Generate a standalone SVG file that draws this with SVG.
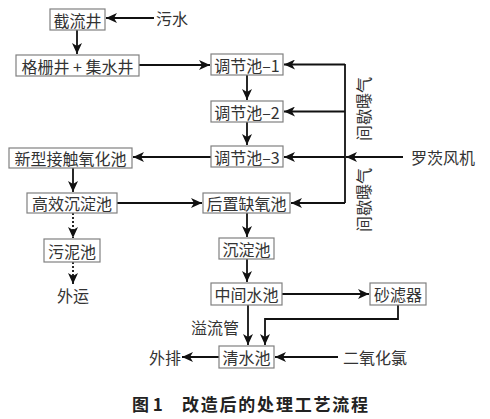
<svg xmlns="http://www.w3.org/2000/svg" width="490" height="419" viewBox="0 0 490 419">
<style>
.box{fill:#fff;stroke:#808080;stroke-width:1.2}
.t{font-family:"Noto Sans CJK SC","Noto Sans",sans-serif;font-size:16px;fill:#333;text-anchor:middle;dominant-baseline:central}
.l{fill:none;stroke:#111;stroke-width:1.8}
.d{fill:none;stroke:#111;stroke-width:1.8;stroke-dasharray:2,2}
.cap{font-family:"Noto Sans CJK SC","Noto Sans",sans-serif;font-size:17px;font-weight:bold;fill:#222;dominant-baseline:central}
</style>
<defs>
<marker id="a" markerUnits="userSpaceOnUse" markerWidth="12" markerHeight="10" refX="11" refY="5" orient="auto">
<path d="M0,0 L11,5 L0,10 L3,5 z" fill="#111"/>
</marker>
</defs>
<rect width="490" height="419" fill="#fff"/>
<g id="connectors">
<line class="l" x1="154" y1="18" x2="106" y2="18" marker-end="url(#a)"/>
<line class="l" x1="77" y1="30" x2="77" y2="54" marker-end="url(#a)"/>
<line class="l" x1="139" y1="65" x2="210" y2="65" marker-end="url(#a)"/>
<line class="l" x1="247" y1="75" x2="247" y2="100" marker-end="url(#a)"/>
<line class="l" x1="247" y1="122" x2="247" y2="145" marker-end="url(#a)"/>
<line class="l" x1="345" y1="64" x2="345" y2="203"/>
<line class="l" x1="345" y1="64.5" x2="284" y2="64.5" marker-end="url(#a)"/>
<line class="l" x1="345" y1="111.5" x2="284" y2="111.5" marker-end="url(#a)"/>
<line class="l" x1="345" y1="157" x2="284" y2="157" marker-end="url(#a)"/>
<line class="l" x1="345" y1="203" x2="291" y2="203" marker-end="url(#a)"/>
<line class="l" x1="403" y1="157" x2="346" y2="157" marker-end="url(#a)"/>
<line class="l" x1="211" y1="157" x2="133" y2="157" marker-end="url(#a)"/>
<line class="l" x1="73" y1="168" x2="73" y2="192" marker-end="url(#a)"/>
<line class="l" x1="117" y1="203" x2="202" y2="203" marker-end="url(#a)"/>
<line class="l" x1="247" y1="213" x2="247" y2="237" marker-end="url(#a)"/>
<line class="l" x1="247" y1="259" x2="247" y2="282" marker-end="url(#a)"/>
<line class="l" x1="282" y1="294" x2="369" y2="294" marker-end="url(#a)"/>
<path class="l" d="M398,305 V319 H265 V345" marker-end="url(#a)"/>
<line class="l" x1="248" y1="305" x2="248" y2="345" marker-end="url(#a)"/>
<line class="l" x1="219" y1="357" x2="182" y2="357" marker-end="url(#a)"/>
<line class="l" x1="338" y1="357" x2="275" y2="357" marker-end="url(#a)"/>
<line class="d" x1="73" y1="213" x2="73" y2="238" marker-end="url(#a)"/>
<line class="d" x1="73" y1="262" x2="73" y2="284" marker-end="url(#a)"/>
</g>
<g id="n-jieliujing"><rect class="box" x="50" y="9" width="55" height="21"/><text class="t" x="77.5" y="19.5">截流井</text></g>
<g id="n-wushui"><text class="t" x="172" y="18">污水</text></g>
<g id="n-geshan"><rect class="box" x="16" y="55" width="123" height="21"/><text class="t" x="77.5" y="65.5">格栅井 + 集水井</text></g>
<g id="n-tiaojie1"><rect class="box" x="211" y="54" width="72" height="21"/><text class="t" x="247" y="64.5">调节池–1</text></g>
<g id="n-tiaojie2"><rect class="box" x="211" y="101" width="72" height="21"/><text class="t" x="247" y="111.5">调节池–2</text></g>
<g id="n-tiaojie3"><rect class="box" x="211" y="146" width="72" height="21"/><text class="t" x="247" y="156.5">调节池–3</text></g>
<g id="n-luoci"><text class="t" x="443" y="157">罗茨风机</text></g>
<g id="n-jianxie1"><text class="t" transform="translate(363,109) rotate(-90)">间歇曝气</text></g>
<g id="n-jianxie2"><text class="t" transform="translate(363,200) rotate(-90)">间歇曝气</text></g>
<g id="n-xinxing"><rect class="box" x="9" y="148" width="123" height="20"/><text class="t" x="70.5" y="158">新型接触氧化池</text></g>
<g id="n-gaoxiao"><rect class="box" x="27" y="193" width="90" height="20"/><text class="t" x="72" y="203">高效沉淀池</text></g>
<g id="n-houzhi"><rect class="box" x="203" y="193" width="87" height="20"/><text class="t" x="246.5" y="203">后置缺氧池</text></g>
<g id="n-wunichi"><rect class="box" x="44" y="239" width="56" height="23"/><text class="t" x="72" y="250.5">污泥池</text></g>
<g id="n-waiyun"><text class="t" x="73" y="295">外运</text></g>
<g id="n-chendian"><rect class="box" x="219" y="238" width="55" height="21"/><text class="t" x="246.5" y="248.5">沉淀池</text></g>
<g id="n-zhongjian"><rect class="box" x="211" y="283" width="71" height="22"/><text class="t" x="246.5" y="294">中间水池</text></g>
<g id="n-shalv"><rect class="box" x="370" y="283" width="56" height="22"/><text class="t" x="398" y="294">砂滤器</text></g>
<g id="n-yiliu"><text class="t" x="215" y="327">溢流管</text></g>
<g id="n-qingshui"><rect class="box" x="219" y="346" width="55" height="22"/><text class="t" x="246.5" y="357">清水池</text></g>
<g id="n-waipai"><text class="t" x="165" y="357">外排</text></g>
<g id="n-eryang"><text class="t" x="375" y="357">二氧化氯</text></g>
<g id="caption"><text class="cap" x="132" y="403">图 1</text><text class="cap" x="182" y="403" textLength="186">改造后的处理工艺流程</text></g>
</svg>
